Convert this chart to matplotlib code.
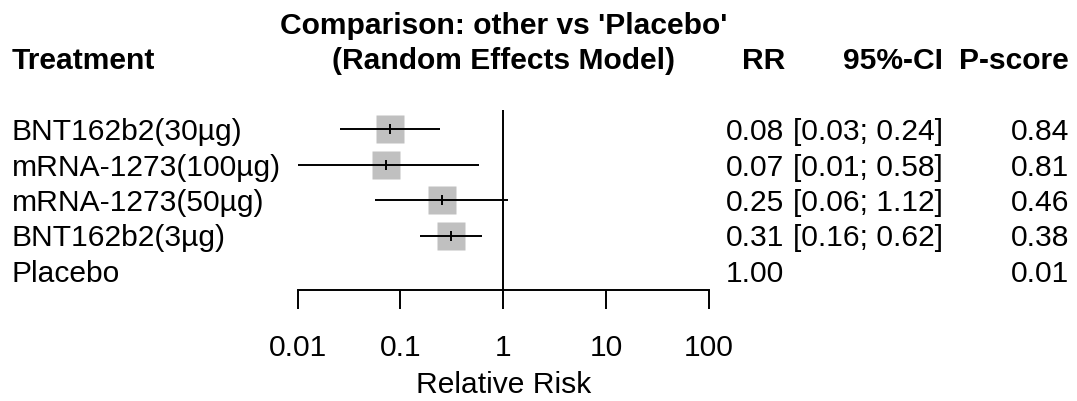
import numpy as np
import matplotlib
matplotlib.use("Agg")
import matplotlib.pyplot as plt
from matplotlib import transforms

plt.rcParams['font.family'] = ['Liberation Sans', 'DejaVu Sans']

# data (network meta-analysis, RR vs placebo)
treatments = ['BNT162b2(30µg)', 'mRNA-1273(100µg)', 'mRNA-1273(50µg)', 'BNT162b2(3µg)', 'Placebo']
rr = [0.08, 0.072, 0.254, 0.31, 1.00]
ci_low = [0.026, 0.009, 0.056, 0.156, np.nan]
ci_up = [0.24, 0.58, 1.12, 0.62, np.nan]
pscore = [0.84, 0.81, 0.46, 0.38, 0.01]
tick_vals = [0.01, 0.1, 1, 10, 100]
tick_labels = ['0.01', '0.1', '1', '10', '100']

W, H = 1077, 401
FS = 21.6
LW = 1.4
fig = plt.figure(figsize=(W / 100, H / 100), dpi=100)
ax = fig.add_axes([297.7 / W, (H - 290) / H, 411 / W, 180 / H])

rows = np.arange(1, len(treatments) + 1)
ax.set_xscale('log')
ax.set_xlim(0.01, 100)
ax.set_ylim(5.53, 0.456)

# forest marks
has_ci = ~np.isnan(np.array(ci_low))
est = np.array(rr)[has_ci]
y = rows[has_ci]
ax.plot(est, y, 's', ms=19.8, color='#c0c0c0', mec='none', zorder=1)
ax.hlines(y, np.array(ci_low)[has_ci], np.array(ci_up)[has_ci], color='black', lw=LW, zorder=2)
ax.plot(est, y, '|', ms=7.2, mew=LW, color='black', zorder=3)
ax.axvline(1, color='black', lw=LW, zorder=2)

for s in ['top', 'right', 'left']:
    ax.spines[s].set_visible(False)
ax.spines['bottom'].set_linewidth(LW)
ax.set_yticks([])
ax.set_xticks(tick_vals)
ax.set_xticklabels(tick_labels)
ax.minorticks_off()
ax.tick_params(axis='x', length=13.7, width=LW, pad=18.0, labelsize=FS)
ax.set_xlabel('Relative Risk', fontsize=FS, va='top')
ax.xaxis.set_label_coords(0.5, -0.451)

# text columns: x in figure pixels, y in row units
cap = 0.716 * FS / 2
tr_fig = transforms.blended_transform_factory(fig.transFigure, ax.transData)
tr_fig = transforms.offset_copy(tr_fig, fig, y=-cap, units='points')
tr_dat = transforms.offset_copy(ax.transData, fig, y=-cap, units='points')


def put(xpx, yrow, s, ha='left', bold=False):
    fig.text(xpx / W, yrow, s, transform=tr_fig, ha=ha, va='baseline',
             fontsize=FS, fontweight='bold' if bold else 'normal')


put(11.5, -1, 'Treatment', bold=True)
ax.text(1, -2, "Comparison: other vs 'Placebo'", transform=tr_dat, ha='center',
        va='baseline', fontsize=FS, fontweight='bold', clip_on=False)
ax.text(1, -1, '(Random Effects Model)', transform=tr_dat, ha='center',
        va='baseline', fontsize=FS, fontweight='bold', clip_on=False)
put(785.5, -1, 'RR', ha='right', bold=True)
put(943.5, -1, '95%-CI', ha='right', bold=True)
put(1069, -1, 'P-score', ha='right', bold=True)

for r, name, e, lo, hi, p in zip(rows, treatments, rr, ci_low, ci_up, pscore):
    put(11.5, r, name)
    put(784, r, f'{e:.2f}', ha='right')
    if not np.isnan(lo):
        put(943, r, f'[{lo:.2f}; {hi:.2f}]', ha='right')
    put(1069, r, f'{p:.2f}', ha='right')

fig.savefig('out.png', dpi=100)
